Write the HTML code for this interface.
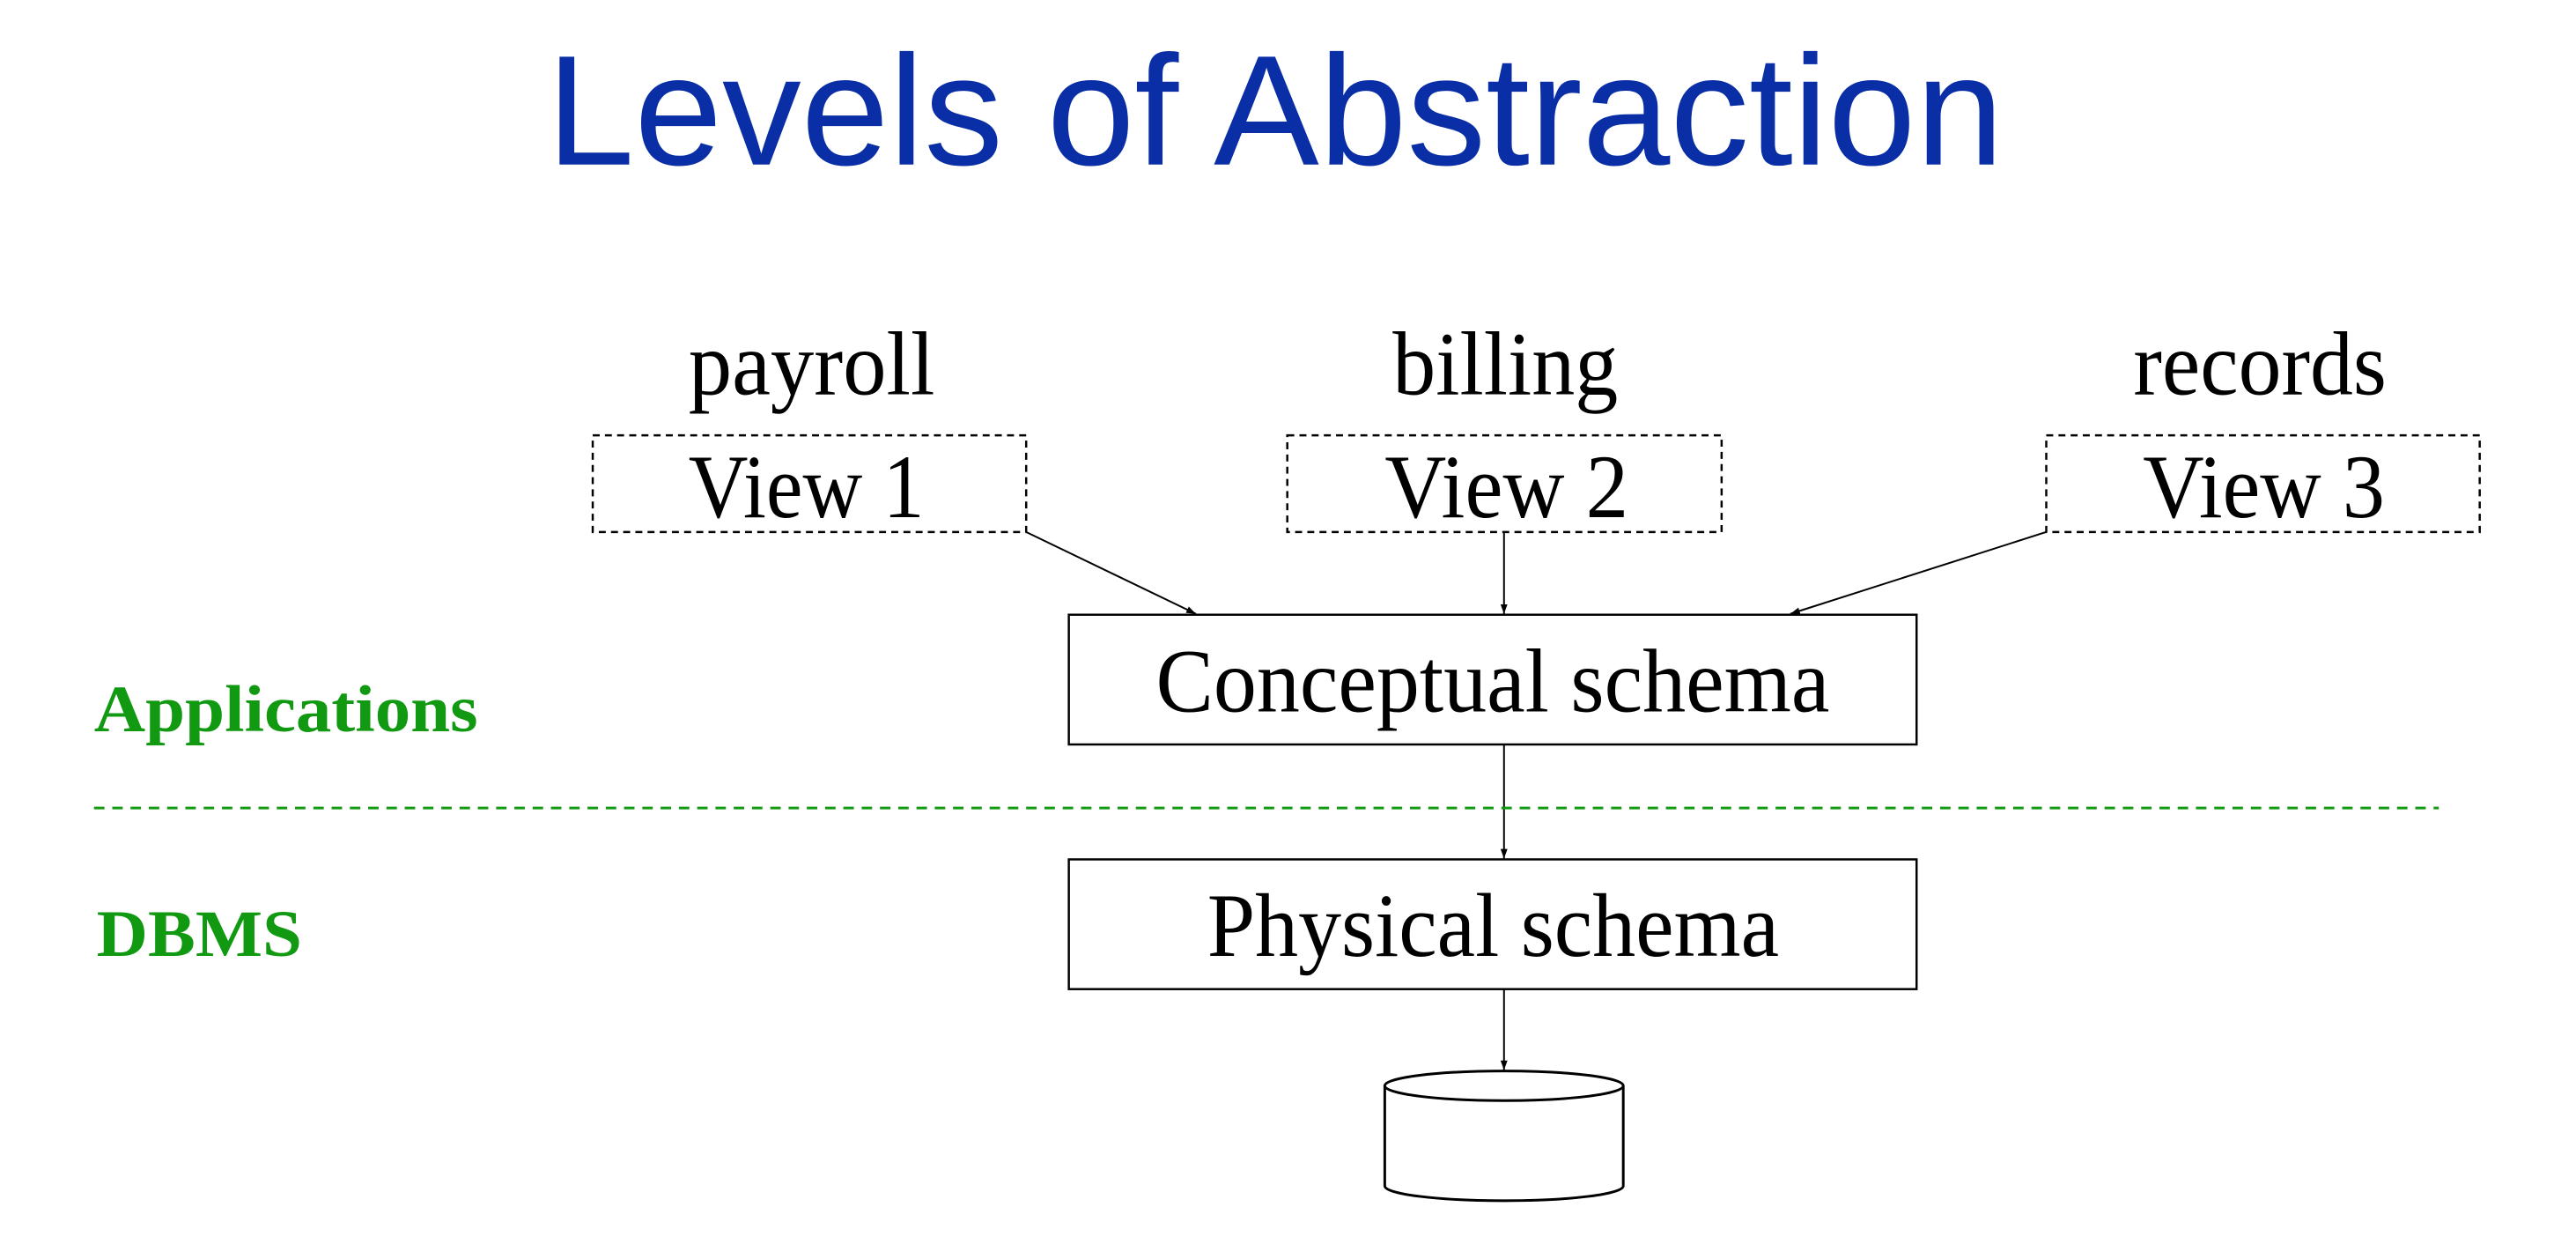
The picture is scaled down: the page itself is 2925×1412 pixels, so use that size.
<!DOCTYPE html>
<html><head><meta charset="utf-8"><style>
html,body{margin:0;padding:0;background:#fff;}
svg{display:block;}
</style></head><body>
<svg width="2925" height="1412" viewBox="0 0 2925 1412" xmlns="http://www.w3.org/2000/svg">
<defs>
<marker id="ah" markerWidth="12" markerHeight="12" refX="11" refY="6" orient="auto" markerUnits="userSpaceOnUse">
<path d="M0,2 L11,6 L0,10 Z" fill="#000"/>
</marker>
</defs>
<g transform="scale(0.9883)">
<text x="628" y="189" font-family="Liberation Sans, sans-serif" font-size="180" fill="#0a2ea6" textLength="1674" lengthAdjust="spacingAndGlyphs">Levels of Abstraction</text>

<g font-family="Liberation Serif, serif" fill="#000" font-size="104">
<text x="791" y="453" textLength="283" lengthAdjust="spacingAndGlyphs">payroll</text>
<text x="1600" y="453" textLength="259" lengthAdjust="spacingAndGlyphs">billing</text>
<text x="2451" y="453" textLength="291" lengthAdjust="spacingAndGlyphs">records</text>
<text x="791" y="594" textLength="271" lengthAdjust="spacingAndGlyphs">View 1</text>
<text x="1591" y="594" textLength="280" lengthAdjust="spacingAndGlyphs">View 2</text>
<text x="2462" y="594" textLength="278" lengthAdjust="spacingAndGlyphs">View 3</text>
<text x="1328" y="817" textLength="774" lengthAdjust="spacingAndGlyphs">Conceptual schema</text>
<text x="1387" y="1098" textLength="657" lengthAdjust="spacingAndGlyphs">Physical schema</text>
</g>

<g fill="none" stroke="#000" stroke-width="2.5" stroke-dasharray="8,6">
<rect x="681" y="500" width="498" height="111"/>
<rect x="1479" y="500" width="499" height="111"/>
<rect x="2351" y="500" width="498" height="111"/>
</g>
<g fill="none" stroke="#000" stroke-width="2.5">
<rect x="1228" y="706" width="974" height="149"/>
<rect x="1228" y="987" width="974" height="149"/>
</g>
<g stroke="#000" stroke-width="2" marker-end="url(#ah)">
<line x1="1179" y1="611" x2="1374" y2="705"/>
<line x1="1728" y1="611" x2="1728" y2="705"/>
<line x1="2351" y1="611" x2="2057" y2="705"/>
<line x1="1728" y1="855" x2="1728" y2="986"/>
<line x1="1728" y1="1136" x2="1728" y2="1229"/>
</g>
<line x1="108" y1="928" x2="2802" y2="928" stroke="#119911" stroke-width="3" stroke-dasharray="12,9"/>
<g font-family="Liberation Serif, serif" font-weight="bold" fill="#119911" font-size="76">
<text x="108" y="840" textLength="441" lengthAdjust="spacingAndGlyphs">Applications</text>
<text x="111" y="1098" textLength="236" lengthAdjust="spacingAndGlyphs">DBMS</text>
</g>
<g fill="none" stroke="#000" stroke-width="3">
<ellipse cx="1728" cy="1247" rx="137" ry="17"/>
<path d="M1591,1247 L1591,1362 A137,17 0 0 0 1865,1362 L1865,1247"/>
</g>
</g>
</svg>
</body></html>
